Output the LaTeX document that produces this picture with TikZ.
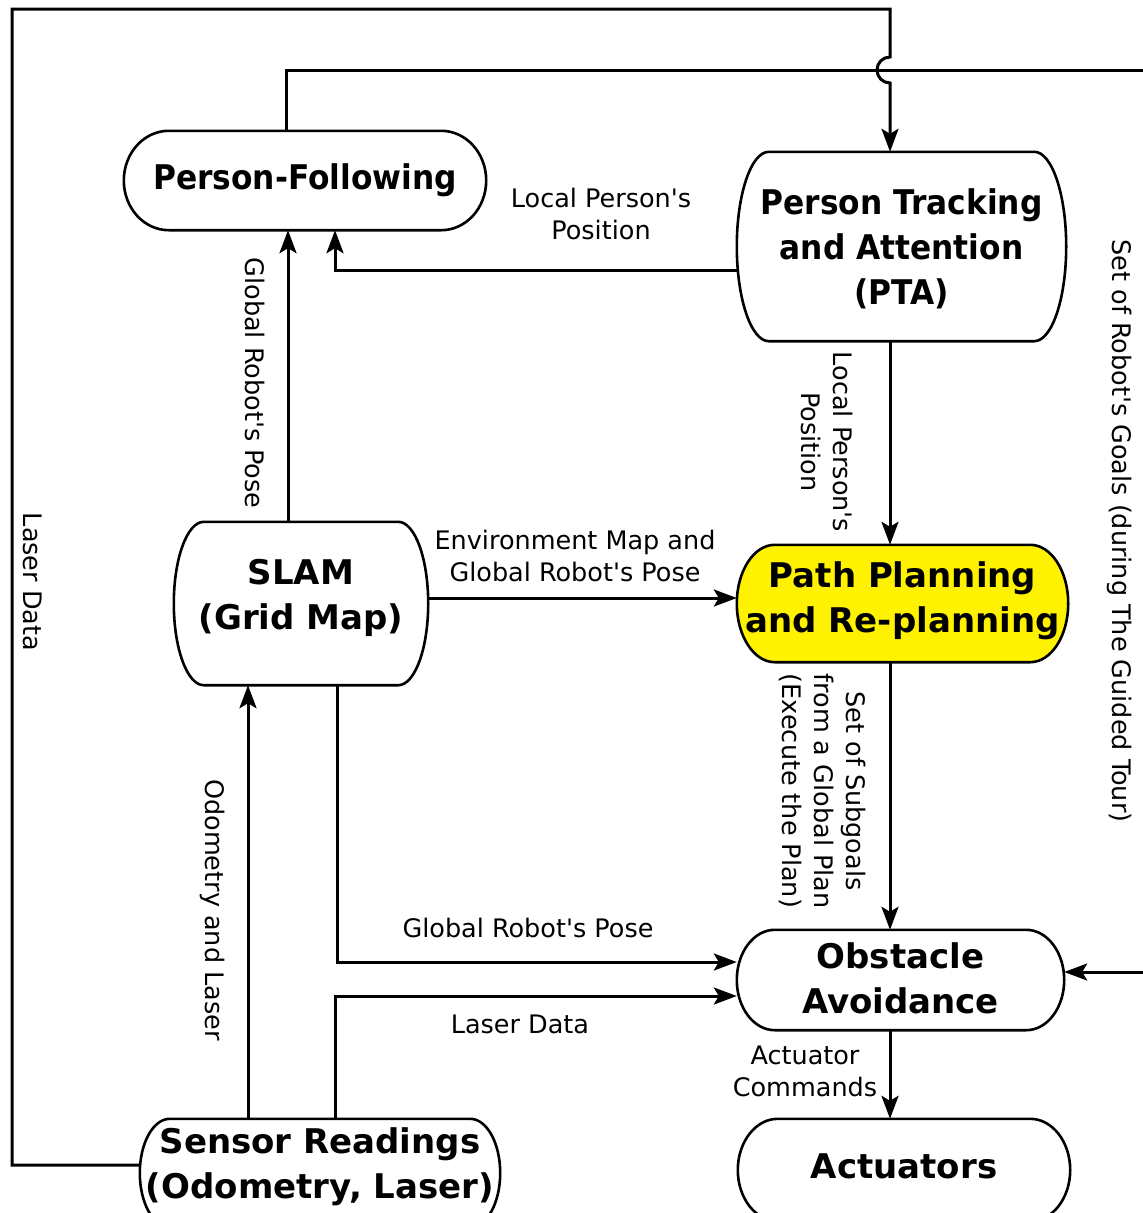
\documentclass[tikz,border=0pt]{standalone}
\usepackage{fontspec}
\setmainfont{DejaVu Sans}
\newfontfamily\narrowbold[FakeStretch=0.92]{DejaVu Sans}
\usetikzlibrary{arrows.meta,calc,backgrounds}

\newcommand{\pillshape}[3][white]{%
  \path[draw, line width=2.6pt, fill=#1] let \p1=(#2.north west), \p2=(#2.south east), \n1={(\y1-\y2)/2} in
    (\x1+#3,\y1) -- (\x2-#3,\y1)
    arc[start angle=90, end angle=-90, x radius=#3, y radius=\n1]
    -- (\x1+#3,\y2)
    arc[start angle=270, end angle=90, x radius=#3, y radius=\n1] -- cycle;}

\begin{document}
\begin{tikzpicture}[
        x=1pt, y=1pt,
        >={Stealth[length=23pt, width=17pt, inset=5pt]},
        box/.style={rectangle, inner sep=0pt, align=center, font=\fontsize{34}{45}\selectfont\bfseries},
        narrow/.style={font=\fontsize{34}{45}\selectfont\narrowbold\bfseries},
        lbl/.style={inner sep=0pt, align=center, font=\fontsize{25.5}{32}\selectfont},
        conn/.style={line width=3pt}
    ]
    \useasboundingbox (0,0) rectangle (1143,-1213);
    \clip (0,0) rectangle (1143,-1213);

    \node[box, narrow, minimum width=362pt, minimum height=99pt] (pf) at (305,-180.5) {Person-Following};
    \node[box, narrow, minimum width=329pt, minimum height=189pt, text depth=-2pt] (pta) at (901.5,-246.5) {Person Tracking\\and Attention\\(PTA)};
    \node[box, minimum width=254pt, minimum height=163pt, text depth=18pt] (slam) at (301,-603.5) {SLAM\\(Grid Map)};
    \node[box, minimum width=331pt, minimum height=117pt, text depth=12pt] (ppl) at (902.5,-603.5) {Path Planning\\and Re-planning};
    \node[box, minimum width=327pt, minimum height=100pt, text depth=3pt] (oa) at (900.5,-980) {Obstacle\\Avoidance};
    \node[box, minimum width=360pt, minimum height=108pt, text depth=20pt] (sens) at (320,-1173) {Sensor Readings\\(Odometry, Laser)};
    \node[box, minimum width=332pt, minimum height=102pt, text depth=8pt] (act) at (904,-1170) {Actuators};

    \begin{scope}[on background layer]
        \pillshape{pf}{45pt}
        \pillshape{pta}{32pt}
        \pillshape{slam}{30pt}
        \pillshape[yellow]{ppl}{38pt}
        \pillshape{oa}{38pt}
        \pillshape{sens}{30pt}
        \pillshape{act}{40pt}
    \end{scope}

    \coordinate (lasercorner) at (12,-9);
    \coordinate (hop) at (890,-70);
    \coordinate (goalcorner) at (1165,-70);

    \draw[conn,->] ([yshift=8pt]sens.west) -| (lasercorner) -| ([yshift=13pt]hop)
        arc[start angle=90, end angle=270, radius=13pt] -- (hop |- pta.north);
    \draw[conn,->] ([xshift=-19pt]pf.north) |- (goalcorner) |- ([yshift=8pt]oa.east);
    \draw[conn,->] ([yshift=-23.5pt]pta.west) -| ([xshift=30pt]pf.south);
    \draw[conn,->] ([xshift=-13pt]slam.north) -- ([xshift=-17pt]pf.south);
    \draw[conn,->] ([xshift=-11.5pt]pta.south) -- ([xshift=-12.5pt]ppl.north);
    \draw[conn,->] ([yshift=5.5pt]slam.east) -- ([yshift=5.5pt]ppl.west);
    \draw[conn,->] ([xshift=-12.5pt]ppl.south) -- ([xshift=-10.5pt]oa.north);
    \draw[conn,->] ([xshift=36pt]slam.south) |- ([yshift=18pt]oa.west);
    \draw[conn,->] ([xshift=15pt]sens.north) |- ([yshift=-16pt]oa.west);
    \draw[conn,->] ([xshift=-72pt]sens.north) -- ([xshift=-53pt]slam.south);
    \draw[conn,->] ([xshift=-10.5pt]oa.south) -- ([xshift=-14pt]act.north);

    \node[lbl] (lpp1) at (601,-214) {Local Person\textquotesingle s\\Position};
    \node[lbl, rotate=-90] (grp1) at (255,-383) {Global Robot\textquotesingle s Pose};
    \node[lbl, rotate=-90] (ld1) at (33,-582) {Laser Data};
    \node[lbl, rotate=-90] (goals) at (1120,-531) {Set of Robot\textquotesingle s Goals (during The Guided Tour)};
    \node[lbl, rotate=-90] (lpp2) at (827,-442) {Local Person\textquotesingle s\\Position};
    \node[lbl] (envmap) at (575,-556) {Environment Map and\\Global Robot\textquotesingle s Pose};
    \node[lbl, rotate=-90] (subg) at (822,-791) {Set of Subgoals\\from a Global Plan\\(Execute the Plan)};
    \node[lbl] (grp2) at (528,-928) {Global Robot\textquotesingle s Pose};
    \node[lbl] (ld2) at (520,-1024) {Laser Data};
    \node[lbl, rotate=-90] (odo) at (213,-910) {Odometry and Laser};
    \node[lbl] (actc) at (805,-1071) {Actuator\\Commands};
\end{tikzpicture}
\end{document}
